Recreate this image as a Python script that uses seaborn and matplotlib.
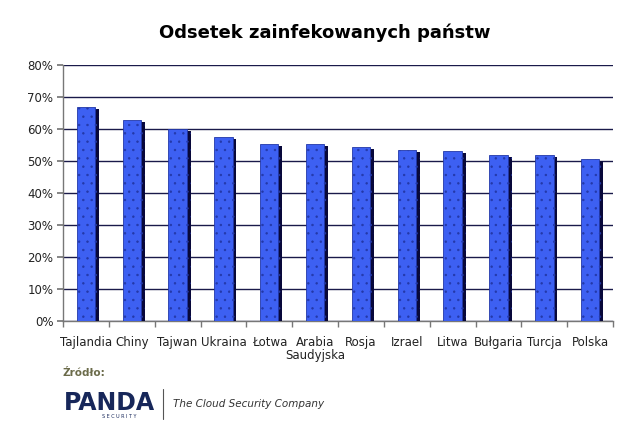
import matplotlib
matplotlib.use("Agg")
import matplotlib.pyplot as plt
import matplotlib.patheffects as pe
from matplotlib.lines import Line2D
from matplotlib.ticker import FuncFormatter, MultipleLocator
import seaborn as sns
import pandas as pd

countries = ["Tajlandia", "Chiny", "Tajwan", "Ukraina", "Łotwa", "Arabia\nSaudyjska",
             "Rosja", "Izrael", "Litwa", "Bułgaria", "Turcja", "Polska"]
values = [66.8, 62.7, 59.9, 57.6, 55.4, 55.4, 54.4, 53.4, 53.1, 51.8, 51.8, 50.5]

sns.set_theme(style="white")
plt.rcParams["font.family"] = ["DejaVu Sans"]
plt.rcParams["hatch.linewidth"] = 0.5

df = pd.DataFrame({"kraj": countries, "odsetek": values})

fig = plt.figure(figsize=(6.4, 4.25), dpi=100)
ax = fig.add_axes([0.0984, 0.2447, 0.8596, 0.6023])

sns.barplot(data=df, x="kraj", y="odsetek", color="#3d60f2", width=0.4,
            saturation=1, ax=ax, edgecolor="#2338a8", linewidth=0.6, hatch="..")
for p in ax.patches:
    p.set_path_effects([pe.SimplePatchShadow(offset=(2.8, -1.4), shadow_rgbFace="#08083a", alpha=1.0),
                        pe.Normal()])
    p.set_zorder(3)

ax.set_ylim(0, 80)
ax.set_xlim(-0.5, len(countries) - 0.5)
ax.yaxis.set_major_locator(MultipleLocator(10))
ax.yaxis.set_major_formatter(FuncFormatter(lambda v, _: f"{int(v)}%"))
ax.grid(axis="y", color="#1a1a4a", linewidth=1.0, zorder=0)
ax.set_axisbelow(True)

for s in ["top", "right"]:
    ax.spines[s].set_visible(False)
for s in ["left", "bottom"]:
    ax.spines[s].set_color("#777777")
    ax.spines[s].set_linewidth(1.0)

ax.set_xlabel("")
ax.set_ylabel("")
ax.tick_params(axis="y", left=True, length=4, color="#777777", labelsize=8.5, pad=3, labelcolor="#222222")
ax.tick_params(axis="x", bottom=False, labelsize=8.5, pad=5, labelcolor="#222222")
ax.set_xticks(range(len(countries)))
ax.set_xticklabels(countries, linespacing=1.0)
ax.set_xticks([i - 0.5 for i in range(len(countries) + 1)], minor=True)
ax.tick_params(axis="x", which="minor", bottom=True, length=4, color="#777777")

fig.text(0.508, 0.922, "Odsetek zainfekowanych państw", ha="center", va="center",
         fontsize=13, fontweight="bold", color="#000000")

fig.text(0.097, 0.122, "Źródło:", ha="left", va="center", fontsize=7.5,
         color="#6b6b4a", family=["Liberation Sans Narrow", "DejaVu Sans"], fontweight="bold")

fig.text(0.100, 0.052, "PANDA", ha="left", va="center", fontsize=17, fontweight="heavy",
         color="#17275a", family=["DejaVu Sans"])
fig.text(0.160, 0.020, "S E C U R I T Y", ha="left", va="center", fontsize=3.5,
         color="#17275a")
fig.add_artist(Line2D([0.255, 0.255], [0.015, 0.085], transform=fig.transFigure,
                      color="#555555", linewidth=0.8))
fig.text(0.270, 0.050, "The Cloud Security Company", ha="left", va="center",
         fontsize=7.5, style="italic", color="#333333")

fig.savefig("out.png", dpi=100)
